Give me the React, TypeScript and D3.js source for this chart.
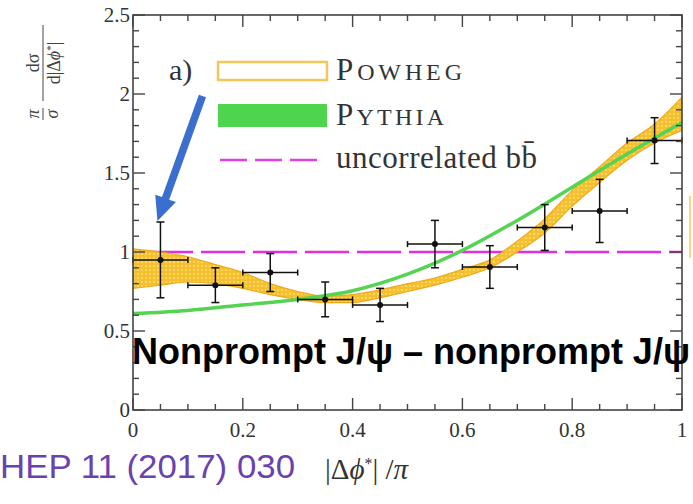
import React from "react";
import * as d3 from "d3";

const W = 693;
const H = 504;

// Measured data (|Δφ*|/π bins)
const binCenters = [0.05, 0.15, 0.25, 0.35, 0.45, 0.55, 0.65, 0.75, 0.85, 0.95];
const binValues = [0.95, 0.79, 0.87, 0.70, 0.665, 1.05, 0.905, 1.155, 1.26, 1.705];
const binErrors = [0.24, 0.11, 0.12, 0.11, 0.105, 0.15, 0.135, 0.145, 0.2, 0.145];
const binHalfWidth = 0.05;

// POWHEG band
const powhegX = [0, 0.05, 0.1, 0.15, 0.2, 0.25, 0.3, 0.35, 0.4, 0.45, 0.5, 0.55, 0.6, 0.65, 0.7, 0.75, 0.8, 0.85, 0.9, 0.95, 1.0];
const powhegLo = [0.77, 0.79, 0.81, 0.8, 0.77, 0.73, 0.7, 0.68, 0.68, 0.71, 0.75, 0.79, 0.84, 0.9, 1.0, 1.12, 1.29, 1.44, 1.58, 1.69, 1.77];
const powhegHi = [1.02, 1.0, 0.97, 0.92, 0.87, 0.8, 0.75, 0.72, 0.73, 0.76, 0.8, 0.835, 0.89, 0.95, 1.07, 1.21, 1.39, 1.54, 1.69, 1.81, 1.98];

// PYTHIA curve
const pythiaX = [0, 0.1, 0.2, 0.3, 0.4, 0.5, 0.6, 0.7, 0.8, 0.9, 1.0];
const pythiaY = [0.61, 0.63, 0.665, 0.7, 0.755, 0.86, 1.01, 1.2, 1.41, 1.62, 1.82];

const uncorrelatedLevel = 1.0;

const xTickValues = [0, 0.2, 0.4, 0.6, 0.8, 1];
const xTickLabels = ["0", "0.2", "0.4", "0.6", "0.8", "1"];
const yTickValues = [0, 0.5, 1, 1.5, 2, 2.5];
const yTickLabels = ["0", "0.5", "1", "1.5", "2", "2.5"];

const SERIF = "'Liberation Serif', 'DejaVu Serif', serif";
const SANS = "'Liberation Sans', Arial, sans-serif";

export default function App() {
  const x = d3.scaleLinear().domain([0, 1]).range([133, 682]);
  const y = d3.scaleLinear().domain([0, 2.5]).range([410, 15]);

  const powhegData = powhegX.map((v, i) => ({ x: v, lo: powhegLo[i], hi: powhegHi[i] }));
  const band = d3
    .area<{ x: number; lo: number; hi: number }>()
    .x((d) => x(d.x))
    .y0((d) => y(d.lo))
    .y1((d) => y(d.hi))
    .curve(d3.curveMonotoneX);

  const pythiaData = pythiaX.map((v, i) => ({ x: v, y: pythiaY[i] }));
  const line = d3
    .line<{ x: number; y: number }>()
    .x((d) => x(d.x))
    .y((d) => y(d.y))
    .curve(d3.curveMonotoneX);

  const minorX = d3.range(0, 1.0001, 0.05);
  const minorY = d3.range(0, 2.5001, 0.1);
  const isMajor = (v: number, step: number) => Math.abs(v / step - Math.round(v / step)) < 1e-6;

  const [x0, x1] = x.range();
  const [y0, y1] = y.range();

  // Arrow annotation pointing at the first measured bin
  const tipX = x(binCenters[0]) - 3;
  const tipY = y(binValues[0] + binErrors[0]) - 1;
  const tailX = tipX + 45;
  const tailY = tipY - 125;
  const ang = Math.atan2(tipY - tailY, tipX - tailX);
  const ux = Math.cos(ang), uy = Math.sin(ang);
  const px = -uy, py = ux;
  const headLen = 24, headW = 11, shaftW = 3.8;
  const bx = tipX - ux * headLen, by = tipY - uy * headLen;
  const arrowPts = [
    [tailX + px * shaftW, tailY + py * shaftW],
    [bx + px * shaftW, by + py * shaftW],
    [bx + px * headW, by + py * headW],
    [tipX, tipY],
    [bx - px * headW, by - py * headW],
    [bx - px * shaftW, by - py * shaftW],
    [tailX - px * shaftW, tailY - py * shaftW],
  ];

  return (
    <svg width={W} height={H} style={{ position: "absolute", left: 0, top: 0, background: "#fff" }}>
      <defs>
        <pattern id="dots" width="4" height="4" patternUnits="userSpaceOnUse">
          <rect width="4" height="4" fill="#f6bf2e" />
          <circle cx="2" cy="2" r="0.9" fill="#ffe27c" />
        </pattern>
        <clipPath id="plot">
          <rect x={x0} y={y1} width={x1 - x0} height={y0 - y1} />
        </clipPath>
      </defs>

      <g clipPath="url(#plot)">
        {/* uncorrelated bb̄ */}
        <line
          x1={x0}
          x2={x1}
          y1={y(uncorrelatedLevel)}
          y2={y(uncorrelatedLevel)}
          stroke="#e22ee2"
          strokeWidth={2.5}
          strokeDasharray="44 8"
          strokeDashoffset={-16}
        />
        {/* POWHEG band */}
        <path d={band(powhegData) || ""} fill="url(#dots)" stroke="#f0a818" strokeWidth={1.2} />
        {/* PYTHIA */}
        <path d={line(pythiaData) || ""} fill="none" stroke="#55d352" strokeWidth={3.5} />
      </g>

      {/* data points */}
      {binCenters.map((c, i) => (
        <g key={i} stroke="#111" strokeWidth={1.5}>
          <line x1={x(c - binHalfWidth)} x2={x(c + binHalfWidth)} y1={y(binValues[i])} y2={y(binValues[i])} />
          <line x1={x(c)} x2={x(c)} y1={y(binValues[i] - binErrors[i])} y2={y(binValues[i] + binErrors[i])} />
          <line x1={x(c) - 4} x2={x(c) + 4} y1={y(binValues[i] - binErrors[i])} y2={y(binValues[i] - binErrors[i])} />
          <line x1={x(c) - 4} x2={x(c) + 4} y1={y(binValues[i] + binErrors[i])} y2={y(binValues[i] + binErrors[i])} />
          <line x1={x(c - binHalfWidth)} x2={x(c - binHalfWidth)} y1={y(binValues[i]) - 3} y2={y(binValues[i]) + 3} />
          <line x1={x(c + binHalfWidth)} x2={x(c + binHalfWidth)} y1={y(binValues[i]) - 3} y2={y(binValues[i]) + 3} />
          <circle cx={x(c)} cy={y(binValues[i])} r={3} fill="#111" stroke="none" />
        </g>
      ))}

      {/* frame */}
      <rect x={x0} y={y1} width={x1 - x0} height={y0 - y1} fill="none" stroke="#444" strokeWidth={1.6} />
      {minorX.map((v, i) => {
        const len = isMajor(v, 0.2) ? 12 : 6;
        return (
          <g key={"xt" + i} stroke="#444" strokeWidth={1.4}>
            <line x1={x(v)} x2={x(v)} y1={y0} y2={y0 - len} />
            <line x1={x(v)} x2={x(v)} y1={y1} y2={y1 + len} />
          </g>
        );
      })}
      {minorY.map((v, i) => {
        const len = isMajor(v, 0.5) ? 12 : 6;
        return (
          <g key={"yt" + i} stroke="#444" strokeWidth={1.4}>
            <line x1={x0} x2={x0 + len} y1={y(v)} y2={y(v)} />
            <line x1={x1} x2={x1 - len} y1={y(v)} y2={y(v)} />
          </g>
        );
      })}

      {/* tick labels */}
      {xTickValues.map((v, i) => (
        <text key={"xl" + i} x={x(v)} y={437} textAnchor="middle" fontFamily={SERIF} fontSize={21} fill="#333">
          {xTickLabels[i]}
        </text>
      ))}
      {yTickValues.map((v, i) => (
        <text key={"yl" + i} x={130} y={y(v) + 7} textAnchor="end" fontFamily={SERIF} fontSize={21} fill="#333">
          {yTickLabels[i]}
        </text>
      ))}

      {/* y axis title */}
      <g transform="translate(43,63) rotate(-90)" fontFamily={SERIF} fill="#444">
        <text x={0} y={-4} textAnchor="middle" fontSize={18}>dσ</text>
        <line x1={-38} x2={38} y1={0} y2={0} stroke="#444" strokeWidth={1} />
        <text x={0} y={17} textAnchor="middle" fontSize={18}>d|Δ<tspan fontStyle="italic">ϕ</tspan><tspan dy={-6} fontSize={11}>*</tspan><tspan dy={6}>|</tspan></text>
        <text x={-51} y={-4} textAnchor="middle" fontSize={18} fontStyle="italic">π</text>
        <line x1={-57} x2={-45} y1={0} y2={0} stroke="#444" strokeWidth={1} />
        <text x={-51} y={15} textAnchor="middle" fontSize={18} fontStyle="italic">σ</text>
      </g>

      {/* arrow */}
      <polygon points={arrowPts.map((p) => p.join(",")).join(" ")} fill="#3a6fcf" />

      {/* legend */}
      <text x={169} y={80} fontFamily={SERIF} fontSize={30} fill="#333">a)</text>
      <rect x={218} y={62} width={109} height={18} fill="#fff" stroke="#f4c65a" strokeWidth={2.5} />
      <rect x={218} y={104} width={109} height={23} fill="#4fd44f" />
      <line x1={220} x2={317} y1={160} y2={160} stroke="#e040e0" strokeWidth={2.5} strokeDasharray="27 8" />
      <text x={336} y={80} fontFamily={SERIF} fill="#333" textLength={126} lengthAdjust="spacing">
        <tspan fontSize={31}>P</tspan>
        <tspan fontSize={24}>OWHEG</tspan>
      </text>
      <text x={336} y={125} fontFamily={SERIF} fill="#333" textLength={108} lengthAdjust="spacing">
        <tspan fontSize={31}>P</tspan>
        <tspan fontSize={24}>YTHIA</tspan>
      </text>
      <text x={336} y={168} fontFamily={SERIF} fontSize={31} fill="#333" textLength={201} lengthAdjust="spacing">
        uncorrelated bb̄
      </text>

      {/* big label */}
      <text x={132} y={364} fontFamily={SANS} fontWeight="bold" fontSize={36} fill="#000" textLength={558} lengthAdjust="spacingAndGlyphs">
        Nonprompt J/ψ – nonprompt J/ψ
      </text>

      {/* neighbour panel fragment */}
      <line x1={690} x2={690} y1={196} y2={258} stroke="#f6d68a" strokeWidth={2} />

      {/* bottom texts */}
      <text x={0} y={478} fontFamily={SANS} fontSize={34} fill="#6a42b0" textLength={295} lengthAdjust="spacingAndGlyphs">HEP 11 (2017) 030</text>
      <text x={325} y={479} fontFamily={SERIF} fontSize={29} fill="#333">
        |Δ<tspan fontStyle="italic">ϕ</tspan><tspan dy={-10} fontSize={16}>*</tspan><tspan dy={10}>| /</tspan><tspan fontStyle="italic">π</tspan>
      </text>
    </svg>
  );
}
